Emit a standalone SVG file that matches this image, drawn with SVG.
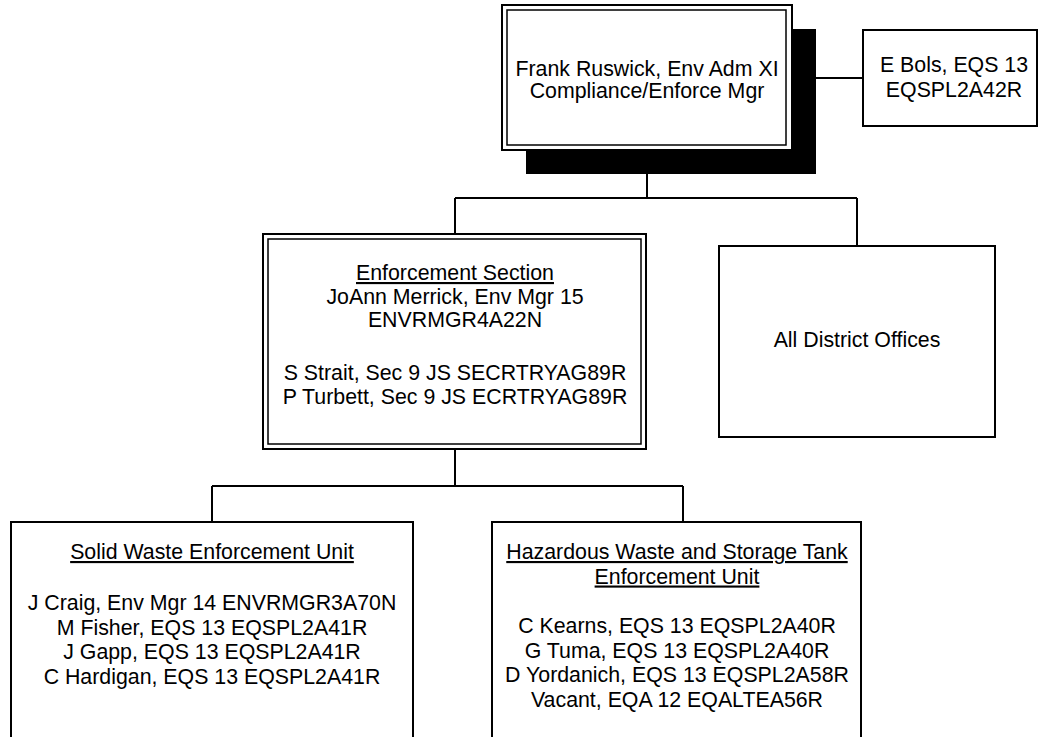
<svg xmlns="http://www.w3.org/2000/svg" width="1042" height="737" viewBox="0 0 1042 737">
<style>
  .box { fill: #ffffff; stroke: #000000; stroke-width: 2; }
  .inner { fill: none; stroke: #000000; stroke-width: 1.5; }
  .conn { fill: none; stroke: #000000; stroke-width: 2; }
  text { font-family: "Liberation Sans", Arial, sans-serif; fill: #000000; text-anchor: middle; font-size: 21.33px; }
  .u { text-decoration: underline; }
</style>
<rect width="1042" height="737" fill="#ffffff"/>
<g id="connectors">
  <path class="conn" d="M647 174 V198"/>
  <path class="conn" d="M455 198 H857"/>
  <path class="conn" d="M455 198 V234"/>
  <path class="conn" d="M857 198 V246"/>
  <path class="conn" d="M792 78 H863"/>
  <path class="conn" d="M455 449 V486"/>
  <path class="conn" d="M212 486 H683"/>
  <path class="conn" d="M212 486 V522"/>
  <path class="conn" d="M683 486 V522"/>
</g>
<g id="node-ruswick">
  <rect x="526" y="29" width="290" height="145" fill="#000000"/>
  <rect class="box" x="502" y="5" width="290" height="145"/>
  <rect class="inner" x="507" y="10" width="279" height="135"/>
  <text x="647" y="76">Frank Ruswick, Env Adm XI</text>
  <text x="647" y="98">Compliance/Enforce Mgr</text>
</g>
<g id="node-bols">
  <rect class="box" x="863" y="30" width="174" height="96"/>
  <text x="954" y="72">E Bols, EQS 13</text>
  <text x="954" y="97">EQSPL2A42R</text>
</g>
<g id="node-enforcement">
  <rect class="box" x="263" y="234" width="383" height="215"/>
  <rect class="inner" x="268" y="239" width="373" height="205"/>
  <text class="u" x="455" y="280">Enforcement Section</text>
  <text x="455" y="303.5">JoAnn Merrick, Env Mgr 15</text>
  <text x="455" y="327">ENVRMGR4A22N</text>
  <text x="455" y="380">S Strait, Sec 9 JS SECRTRYAG89R</text>
  <text x="455" y="404">P Turbett, Sec 9 JS ECRTRYAG89R</text>
</g>
<g id="node-district">
  <rect class="box" x="719" y="246" width="276" height="191"/>
  <text x="857" y="347">All District Offices</text>
</g>
<g id="node-solid">
  <rect class="box" x="11" y="522" width="402" height="230"/>
  <text class="u" x="212" y="559">Solid Waste Enforcement Unit</text>
  <text x="212" y="610">J Craig, Env Mgr 14 ENVRMGR3A70N</text>
  <text x="212" y="634.5">M Fisher, EQS 13 EQSPL2A41R</text>
  <text x="212" y="659">J Gapp, EQS 13 EQSPL2A41R</text>
  <text x="212" y="683.5">C Hardigan, EQS 13 EQSPL2A41R</text>
</g>
<g id="node-hazardous">
  <rect class="box" x="492" y="522" width="369" height="230"/>
  <text class="u" x="677" y="559">Hazardous Waste and Storage Tank</text>
  <text class="u" x="677" y="583.5">Enforcement Unit</text>
  <text x="677" y="633">C Kearns, EQS 13 EQSPL2A40R</text>
  <text x="677" y="657.5">G Tuma, EQS 13 EQSPL2A40R</text>
  <text x="677" y="682">D Yordanich, EQS 13 EQSPL2A58R</text>
  <text x="677" y="706.5">Vacant, EQA 12 EQALTEA56R</text>
</g>
</svg>
